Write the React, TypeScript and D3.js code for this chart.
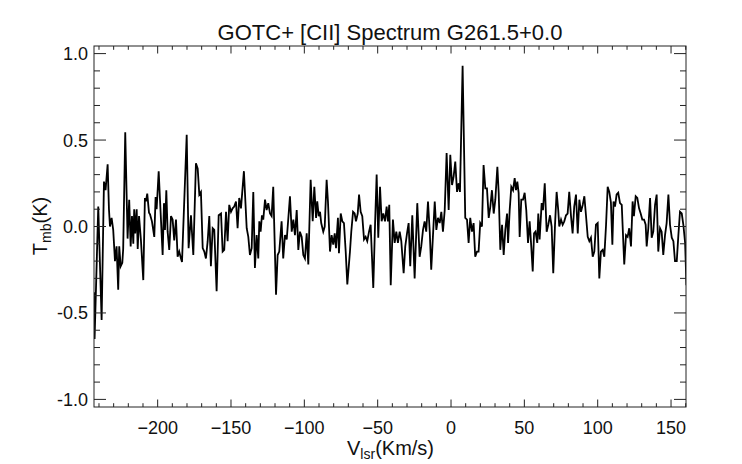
import React from "react";
import * as d3 from "d3";

const velocity = [
  -243.4, -243.0, -240.5, -238.2, -236.6, -235.5, -234.1, -233.2, -232.5, -231.4,
  -230.3, -229.1, -228.0, -226.9, -226.2, -225.2, -224.1, -223.5, -222.1, -220.5,
  -219.4, -218.4, -217.5, -216.6, -216.0, -215.3, -214.3, -213.6, -212.7, -211.4,
  -209.8, -208.7, -208.0, -207.1, -205.9, -205.2, -203.9, -202.3, -201.4, -200.7,
  -199.3, -198.4, -197.3, -196.6, -195.7, -195.0, -194.1, -193.2, -192.1, -190.9,
  -189.8, -188.7, -187.5, -186.4, -185.3, -184.1, -183.4, -180.2, -178.9, -177.3,
  -175.7, -173.9, -172.7, -171.6, -170.5, -169.3, -168.2, -167.1, -165.9, -164.8,
  -163.7, -162.5, -161.4, -159.8, -158.4, -156.8, -155.7, -154.6, -153.4, -152.3,
  -151.2, -150.0, -148.9, -147.8, -146.6, -145.5, -144.4, -143.2, -141.2, -139.3,
  -138.2, -137.1, -135.9, -134.8, -133.7, -132.5, -131.4, -130.7, -129.8, -128.9,
  -128.0, -126.8, -125.7, -124.6, -123.4, -122.3, -121.2, -119.3, -118.2, -117.1,
  -115.5, -114.4, -113.2, -112.0, -109.8, -108.6, -107.5, -106.4, -105.2, -104.1,
  -103.0, -101.8, -100.7, -99.6, -98.4, -97.3, -95.7, -94.3, -93.2, -92.0,
  -91.2, -90.2, -89.3, -88.5, -87.1, -86.1, -84.8, -83.9, -82.5, -81.4,
  -80.3, -79.3, -78.4, -77.1, -76.4, -75.2, -74.1, -73.0, -71.8, -70.7,
  -68.9, -68.0, -66.8, -65.7, -64.8, -63.6, -62.7, -61.6, -60.5, -59.3,
  -58.2, -57.1, -55.9, -54.8, -53.0, -51.8, -50.7, -49.6, -48.4, -47.3,
  -46.2, -45.0, -43.9, -43.0, -42.1, -41.1, -39.6, -38.4, -37.3, -36.2,
  -35.0, -33.9, -32.3, -31.2, -30.0, -28.9, -27.8, -26.4, -24.8, -23.0,
  -21.4, -20.3, -19.1, -18.0, -16.9, -15.7, -14.5, -13.5, -11.1, -10.0,
  -8.9, -7.7, -6.6, -5.5, -4.3, -3.0, -1.6, -0.5, 0.7, 1.8,
  2.9, 4.1, 5.2, 6.1, 7.9, 9.7, 10.9, 12.0, 13.1, 14.3,
  15.4, 16.5, 17.7, 18.8, 19.9, 21.1, 22.2, 23.4, 24.5, 25.7,
  26.8, 27.9, 29.1, 30.2, 31.6, 32.5, 33.6, 34.8, 35.9, 37.0,
  38.2, 38.9, 40.0, 41.1, 42.3, 43.4, 44.3, 45.2, 46.1, 46.8,
  47.9, 49.1, 50.2, 51.3, 52.5, 53.6, 54.7, 55.7, 56.6, 57.6,
  58.8, 59.5, 60.4, 61.8, 62.7, 63.9, 65.2, 66.3, 67.5, 68.6,
  69.7, 70.9, 72.0, 73.1, 73.8, 75.0, 76.1, 77.2, 78.4, 79.5,
  80.6, 81.8, 82.9, 84.0, 85.2, 86.4, 87.5, 88.6, 89.8, 90.9,
  92.0, 93.2, 94.3, 95.4, 96.6, 97.7, 98.8, 100.0, 101.1, 102.2,
  103.4, 104.5, 105.7, 106.8, 107.9, 109.0, 110.0, 110.8, 111.8, 112.9,
  114.0, 115.2, 116.4, 118.1, 119.3, 120.4, 121.5, 122.7, 123.8, 124.7,
  125.9, 127.0, 128.2, 129.3, 130.4, 131.6, 132.7, 133.4, 134.5, 135.7,
  136.8, 137.9, 139.1, 140.2, 141.3, 142.5, 143.6, 144.7, 145.9, 147.0,
  148.2, 149.3, 150.5, 151.6, 152.7, 153.9, 155.0, 156.1, 157.3, 158.4,
  159.6, 160.5,
];

const tmb = [
  -0.38, -0.65, 0.115, -0.54, 0.26, 0.21, 0.36, 0.1, 0.0, 0.05,
  -0.02, -0.2, -0.115, -0.365, -0.115, -0.23, -0.21, -0.13, 0.545, -0.07,
  0.155, -0.115, 0.06, -0.1, 0.1, -0.04, 0.1, -0.13, 0.06, -0.08,
  -0.31, 0.165, 0.145, 0.19, 0.08, 0.07, 0.03, -0.06, 0.17, 0.1,
  0.32, 0.155, -0.04, -0.165, 0.135, -0.02, 0.21, -0.03, -0.135, 0.06,
  0.04, -0.08, 0.04, -0.175, -0.145, -0.185, -0.205, 0.53, -0.125, 0.065,
  -0.165, 0.365, 0.335, 0.185, 0.2, -0.125, -0.145, -0.185, -0.085, 0.06,
  -0.23, -0.01, -0.02, -0.375, 0.065, 0.075, -0.145, -0.135, 0.085, -0.085,
  0.125, 0.085, 0.105, 0.115, 0.145, -0.01, 0.165, 0.105, 0.32, -0.01,
  -0.06, -0.165, -0.125, 0.2, -0.24, -0.05, -0.185, 0.03, -0.03, 0.065,
  0.04, 0.155, 0.095, 0.135, 0.075, 0.06, 0.23, -0.395, -0.165, -0.145,
  0.03, -0.185, -0.05, -0.075, 0.175, -0.03, 0.04, -0.05, 0.095, -0.135,
  -0.03, -0.06, -0.165, -0.185, -0.04, -0.22, 0.27, 0.03, 0.23, 0.05,
  0.145, 0.06, 0.085, 0.02, -0.03, 0.0, 0.27, 0.145, -0.145, -0.05,
  -0.105, -0.04, -0.125, 0.05, -0.155, 0.075, 0.03, 0.02, -0.145, -0.335,
  -0.145, -0.03, 0.085, 0.075, 0.03, 0.075, 0.185, 0.085, 0.06, -0.075,
  -0.06, -0.085, -0.03, 0.01, -0.355, 0.01, 0.3, -0.065, 0.23, 0.03,
  0.075, 0.03, 0.115, 0.03, 0.125, -0.34, 0.04, -0.095, -0.03, -0.095,
  -0.03, -0.085, -0.27, -0.115, -0.04, 0.02, -0.23, 0.065, -0.3, 0.135,
  -0.175, -0.115, -0.02, 0.03, -0.03, 0.145, -0.03, -0.25, 0.145, -0.02,
  0.05, 0.02, 0.085, -0.03, 0.095, 0.425, 0.095, 0.415, 0.24, 0.29,
  0.375, 0.2, 0.25, 0.2, 0.93, 0.05, 0.04, -0.095, 0.05, -0.03,
  0.02, -0.175, -0.145, -0.145, 0.02, 0.0, 0.355, 0.22, 0.22, 0.05,
  0.115, 0.21, 0.075, 0.155, 0.345, 0.195, -0.135, 0.01, -0.165, -0.02,
  0.075, -0.095, 0.095, 0.23, 0.21, 0.28, 0.21, 0.26, 0.195, -0.06,
  0.155, 0.155, 0.195, 0.095, -0.095, 0.03, -0.115, -0.26, -0.04, -0.03,
  -0.095, 0.075, -0.075, 0.135, 0.095, 0.25, -0.03, 0.01, 0.065, 0.0,
  -0.27, 0.01, 0.2, 0.095, 0.0, 0.04, 0.01, 0.03, 0.065, 0.075,
  0.2, 0.06, -0.04, 0.115, 0.185, -0.04, 0.155, 0.085, 0.125, 0.175,
  0.065, -0.06, -0.085, -0.065, -0.175, -0.145, 0.01, 0.02, -0.3, -0.145,
  -0.135, -0.175, 0.01, 0.23, 0.2, 0.14, -0.105, 0.145, 0.115, 0.185,
  0.195, 0.135, 0.125, -0.22, -0.05, -0.06, -0.01, -0.115, 0.145, 0.06,
  0.175, 0.165, 0.105, 0.075, 0.04, 0.04, 0.01, -0.115, -0.01, 0.165,
  -0.065, -0.03, 0.125, 0.185, -0.145, -0.01, -0.03, -0.165, -0.05, 0.02,
  0.185, 0.01, -0.065, -0.085, -0.2, -0.2, -0.05, 0.085, 0.075, 0.01,
  -0.095, -0.34,
];

const xMajorTicks = [-200, -150, -100, -50, 0, 50, 100, 150];
const xTickLabels = ["\u2212200", "\u2212150", "\u2212100", "\u221250", "0", "50", "100", "150"];
const yMajorTicks = [-1.0, -0.5, 0.0, 0.5, 1.0];
const yTickLabels = ["-1.0", "-0.5", "0.0", "0.5", "1.0"];
const titleText = "GOTC+ [CII] Spectrum G261.5+0.0";

const W = 742;
const H = 464;
const left = 94;
const right = 686;
const top = 46;
const bottom = 407;

const FONT = "'Liberation Sans', Arial, Helvetica, sans-serif";

export default function App() {
  const x = d3.scaleLinear().domain([-243.4, 160.2]).range([left, right]);
  const y = d3.scaleLinear().domain([-1.044, 1.044]).range([bottom, top]);

  const xMinor = d3.range(-240, 161, 10).filter((v) => !xMajorTicks.includes(v));
  const yMinor = d3.range(-10, 11, 1).map((v) => v / 10).filter((v) => !yMajorTicks.some((m) => Math.abs(m - v) < 1e-9));

  const pts: [number, number][] = velocity.map((v, i) => [v, tmb[i]]);
  const line = d3
    .line<[number, number]>()
    .x((d) => x(d[0]))
    .y((d) => y(d[1]));

  const xMajLen = 7.5;
  const xMinLen = 3.8;
  const yMajLen = 12;
  const yMinLen = 6;
  const axisColor = "#222";

  return (
    <svg
      width={W}
      height={H}
      viewBox={`0 0 ${W} ${H}`}
      style={{ position: "absolute", left: 0, top: 0, background: "#fff" }}
    >
      <rect x={0} y={0} width={W} height={H} fill="#fff" />
      <defs>
        <clipPath id="plotClip">
          <rect x={left} y={top} width={right - left} height={bottom - top} />
        </clipPath>
      </defs>

      <text
        x={(left + right) / 2}
        y={40}
        textAnchor="middle"
        fontFamily={FONT}
        fontSize={22}
        fill="#111"
      >
        {titleText}
      </text>

      <path
        d={line(pts) || ""}
        fill="none"
        stroke="#000"
        strokeWidth={1.8}
        strokeLinejoin="miter"
        clipPath="url(#plotClip)"
      />

      <rect
        x={left}
        y={top}
        width={right - left}
        height={bottom - top}
        fill="none"
        stroke={axisColor}
        strokeWidth={1}
      />

      {xMajorTicks.map((v) => (
        <g key={"xM" + v}>
          <line x1={x(v)} x2={x(v)} y1={bottom} y2={bottom - xMajLen} stroke={axisColor} strokeWidth={1} />
          <line x1={x(v)} x2={x(v)} y1={top} y2={top + xMajLen} stroke={axisColor} strokeWidth={1} />
        </g>
      ))}
      {xMinor.map((v) => (
        <g key={"xm" + v}>
          <line x1={x(v)} x2={x(v)} y1={bottom} y2={bottom - xMinLen} stroke={axisColor} strokeWidth={1} />
          <line x1={x(v)} x2={x(v)} y1={top} y2={top + xMinLen} stroke={axisColor} strokeWidth={1} />
        </g>
      ))}
      {yMajorTicks.map((v) => (
        <g key={"yM" + v}>
          <line x1={left} x2={left + yMajLen} y1={y(v)} y2={y(v)} stroke={axisColor} strokeWidth={1} />
          <line x1={right} x2={right - yMajLen} y1={y(v)} y2={y(v)} stroke={axisColor} strokeWidth={1} />
        </g>
      ))}
      {yMinor.map((v) => (
        <g key={"ym" + v}>
          <line x1={left} x2={left + yMinLen} y1={y(v)} y2={y(v)} stroke={axisColor} strokeWidth={1} />
          <line x1={right} x2={right - yMinLen} y1={y(v)} y2={y(v)} stroke={axisColor} strokeWidth={1} />
        </g>
      ))}

      {xMajorTicks.map((v, i) => (
        <text
          key={"xl" + v}
          x={x(v)}
          y={434}
          textAnchor="middle"
          fontFamily={FONT}
          fontSize={18}
          fill="#111"
        >
          {xTickLabels[i]}
        </text>
      ))}
      {yMajorTicks.map((v, i) => (
        <text
          key={"yl" + v}
          x={88}
          y={y(v) + 6.5}
          textAnchor="end"
          fontFamily={FONT}
          fontSize={18}
          fill="#111"
        >
          {yTickLabels[i]}
        </text>
      ))}

      <text x={347} y={455} fontFamily={FONT} fontSize={20} fill="#111">
        <tspan>V</tspan>
        <tspan fontSize={14} dy={4}>lsr</tspan>
        <tspan dy={-4}>(Km/s)</tspan>
      </text>

      <g transform="translate(47,226) rotate(-90)">
        <text x={0} y={0} textAnchor="middle" fontFamily={FONT} fontSize={20} fill="#111">
          <tspan>T</tspan>
          <tspan fontSize={14} dy={4}>mb</tspan>
          <tspan dy={-4}>(K)</tspan>
        </text>
      </g>
    </svg>
  );
}
